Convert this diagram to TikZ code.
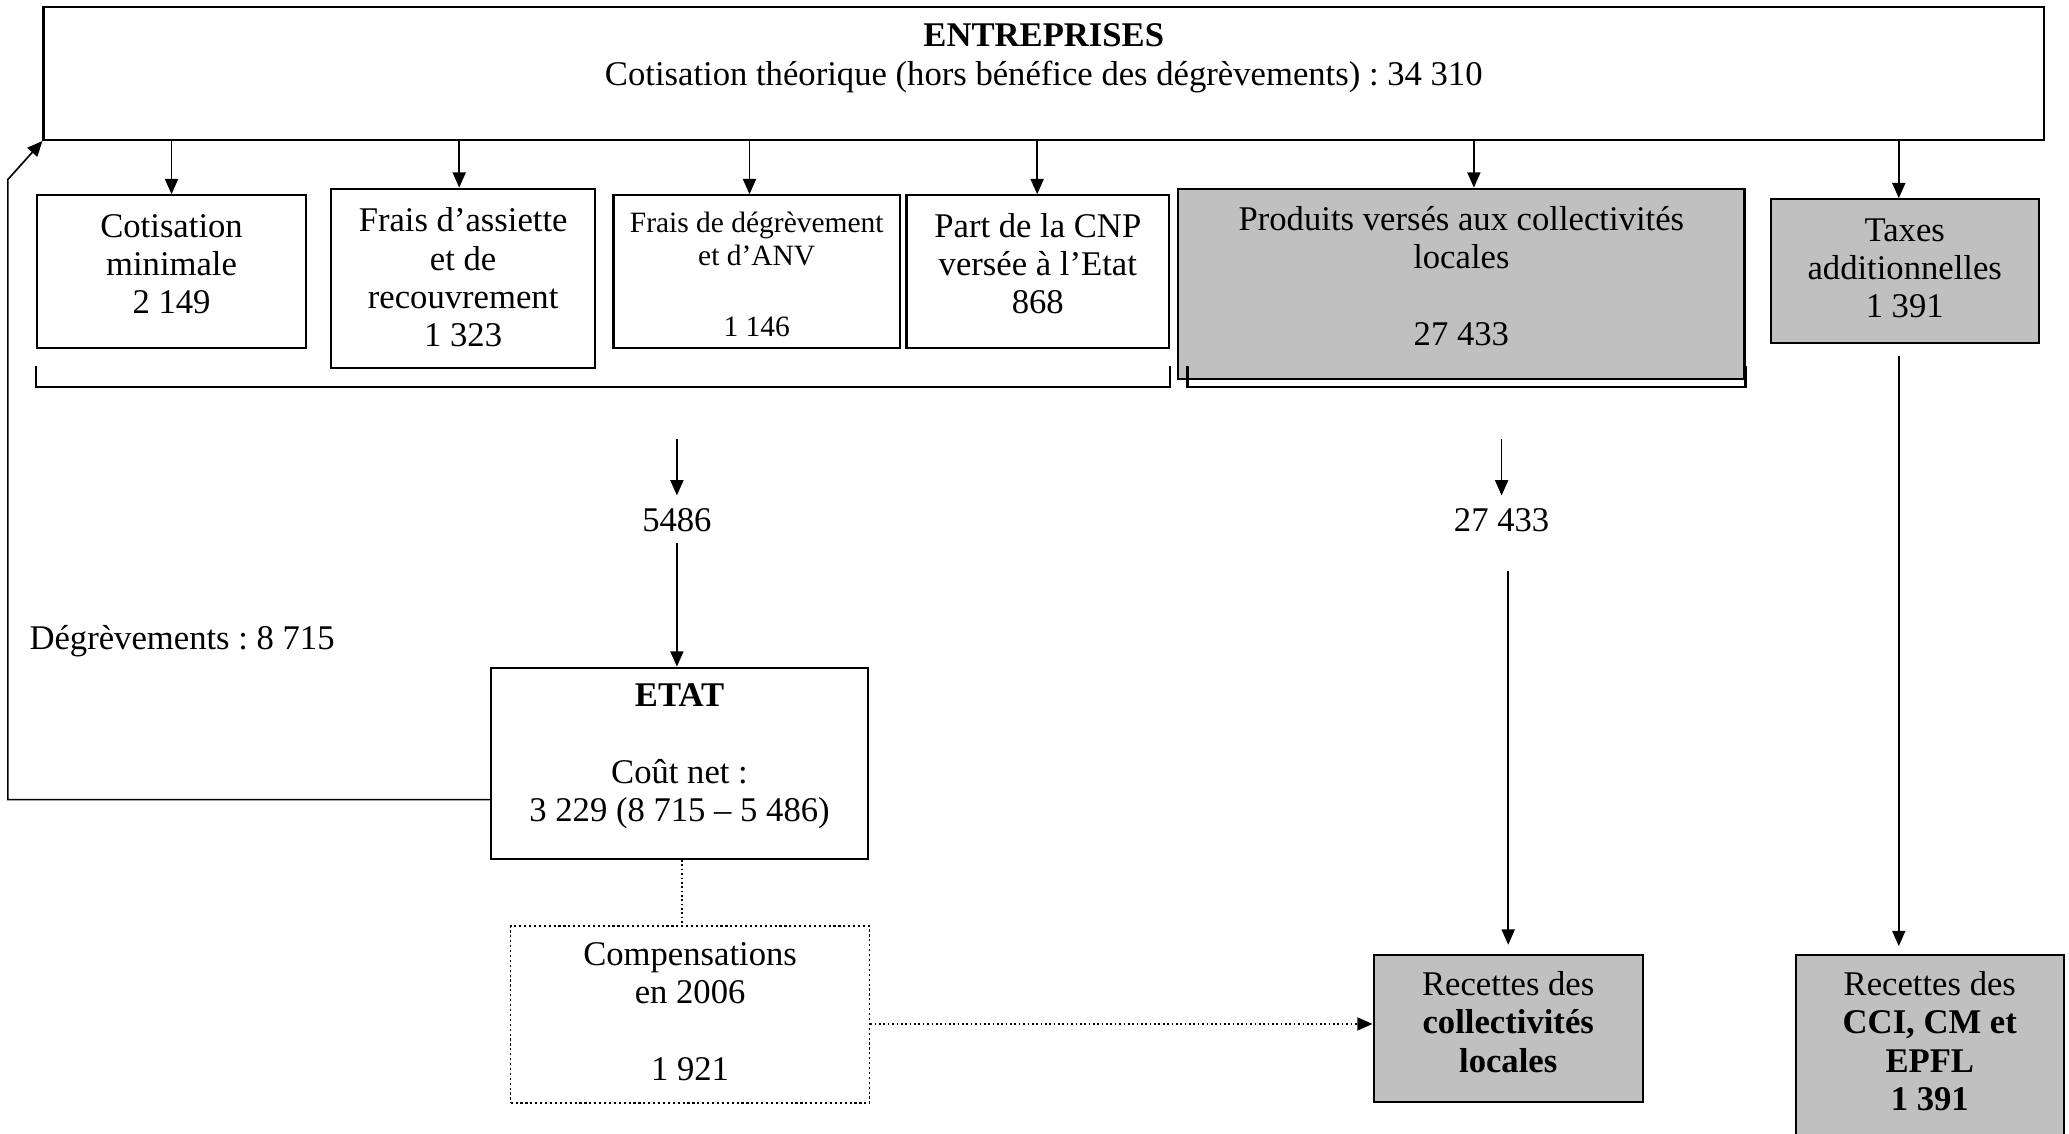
\documentclass[tikz,border=0pt]{standalone}
\usepackage{fontspec}
\setmainfont{Liberation Serif}
\usetikzlibrary{arrows.meta,fit}
\definecolor{boxgray}{HTML}{C0C0C0}
\newcommand\fb[1]{\rule{0pt}{#1}}
\frenchspacing
\begin{document}
\begin{tikzpicture}[x=0.017cm, y=-0.017cm,
  font=\fontsize{12.7}{14}\selectfont,
  box/.style={draw, line width=0.8pt, inner sep=0pt},
  gbox/.style={box, fill=boxgray},
  lab/.style={anchor=north, inner sep=0pt, align=center},
  ln/.style={line width=0.6pt},
  arr/.style={line width=0.6pt, -{Triangle[length=5.6pt,width=4.8pt]}},
  small/.style={font=\fontsize{10.8}{12}\selectfont},
  label distance=0pt
  ]
\useasboundingbox (0,0) rectangle (1568,859);

% main boxes
\node[box, fit={(33,5) (1549,106)},
  label={[lab]north:{\fb{15pt}\textbf{ENTREPRISES}\\Cotisation théorique (hors bénéfice des dégrèvements) : 34 310}}] (ent) {};

\node[box, fit={(28,148) (232,264)},
  label={[lab]north:{\fb{15.5pt}Cotisation\\minimale\\2 149}}] (cot) {};
\node[box, fit={(251,143) (451,279)},
  label={[lab]north:{\fb{16pt}Frais d’assiette\\et de\\recouvrement\\1 323}}] (fra) {};
\node[box, fit={(465,148) (682,264)},
  label={[lab, small]north:{\fb{13.8pt}Frais de dégrèvement\\et d’ANV\\[14pt]1 146}}] (deg) {};
\node[box, fit={(687,148) (886,264)},
  label={[lab]north:{\fb{15.5pt}Part de la CNP\\versée à l’Etat\\868}}] (cnp) {};
\node[gbox, fit={(893,143) (1322,287)},
  label={[lab]north:{\fb{15.5pt}Produits versés aux collectivités\\locales\\[14pt]27 433}}] (prod) {};
\node[gbox, fit={(1342,151) (1545,260)},
  label={[lab]north:{\fb{15.5pt}Taxes\\additionnelles\\1 391}}] (tax) {};

\node[box, fit={(372,506) (658,651)},
  label={[lab]north:{\fb{14.5pt}\textbf{ETAT}\\[14pt]Coût net :\\3 229 (8 715 – 5 486)}}] (etat) {};
\node[box, densely dotted, line width=0.6pt, fit={(387,702) (659,836)},
  label={[lab]north:{\fb{14.5pt}Compensations\\en 2006\\[14pt]1 921}}] (comp) {};
\node[gbox, fit={(1041,724) (1245,835)},
  label={[lab]north:{\fb{15pt}Recettes des\\\textbf{collectivités}\\\textbf{locales}}}] (rec1) {};
\node[gbox, fit={(1361,724) (1564,880)},
  label={[lab]north:{\fb{15pt}Recettes des\\\textbf{CCI, CM et}\\\textbf{EPFL}\\\textbf{1 391}}}] (rec2) {};

% labels
\node[inner sep=0pt] (l1) at (513,394) {5486};
\node[inner sep=0pt] (l2) at (1138,394) {27 433};
\node[inner sep=0pt, anchor=west] (degl) at (22,486) {Dégrèvements : 8 715};

% arrows from ENTREPRISES
\foreach \x/\t in {130/cot, 348/fra, 568/deg, 786/cnp, 1117/prod, 1439/tax} {
  \coordinate (k) at (\x,0);
  \draw[arr] (ent.south -| k) -- (\t.north -| k);
}

% brackets
\coordinate (bt) at (0,277);
\coordinate (bb) at (0,293);
\coordinate (b2l) at (900,0);
\draw[line width=0.8pt] (cot.west |- bt) -- (cot.west |- bb) -- (cnp.east |- bb) -- (cnp.east |- bt);
\draw[line width=0.8pt] (b2l |- bt) -- (b2l |- bb) -- (prod.east |- bb) -- (prod.east |- bt);

% flows down
\coordinate (a1) at (513,333);
\coordinate (a2) at (1138,333);
\coordinate (b2) at (1143,433);
\draw[arr, shorten >=4.5pt] (a1) -- (l1.north);
\draw[arr, shorten <=4pt] (l1.south) -- (etat.north -| l1.south);
\draw[arr, shorten >=4.5pt] (a2) -- (l2.north);
\draw[arr, shorten >=3.5pt] (b2) -- (rec1.north -| b2);
\coordinate (t1) at (1439,0);
\draw[arr, shorten <=4.5pt, shorten >=3pt] (tax.south -| t1) -- (rec2.north -| t1);

% loop back to ENTREPRISES
\coordinate (lp1) at (6,606);
\coordinate (lp2) at (6,136);
\draw[arr] (etat.west |- lp1) -- (lp1) -- (lp2) -- (ent.south west);

% dotted links
\coordinate (d1) at (517,0);
\coordinate (d2) at (0,776);
\draw[ln, densely dotted] (etat.south -| d1) -- (comp.north -| d1);
\draw[arr, densely dotted] (comp.east |- d2) -- (rec1.west |- d2);
\end{tikzpicture}
\end{document}
